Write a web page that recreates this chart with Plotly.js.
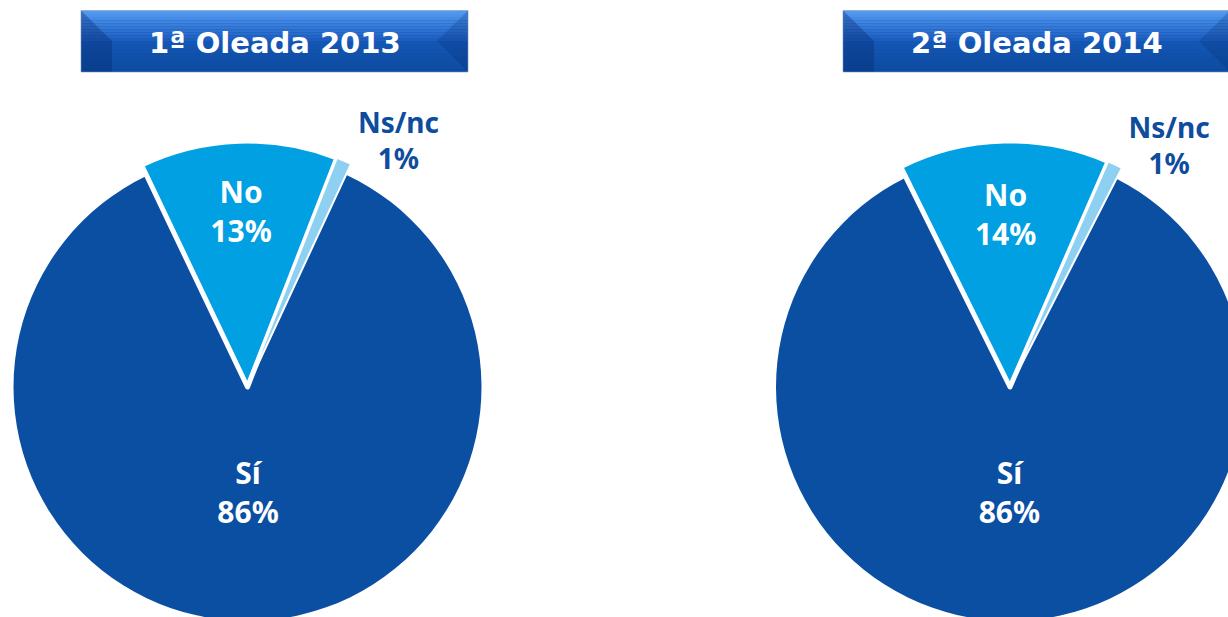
<!DOCTYPE html>
<html><head><meta charset="utf-8">
<script src="https://cdn.plot.ly/plotly-3.0.1.min.js"></script>
<style>
html,body{margin:0;padding:0;overflow:hidden;background:#ffffff;width:1228px;height:617px}
#chart{width:1260px;height:660px}
</style>
</head><body><div id="chart"></div><script>
// ---- data ----
const categories = ['No', 'Ns/nc', 'Sí'];
const wave1Values = [13, 1, 86];
const wave2Values = [14, 1, 86];
const panelTitles = ['1ª Oleada 2013', '2ª Oleada 2014'];

// ---- style ----
const sliceColors = ['#00A0E3', '#8ED0F1', '#0B4FA3'];
const CLEAR = 'rgba(0,0,0,0)';
const W = 1260, H = 660;
const px = x => x / W;
const py = y => 1 - y / H;
function domainFor(cx, cy, r) {
  return {x: [px(cx - r), px(cx + r)], y: [py(cy + r), py(cy - r)]};
}
const labelFont = {family: 'Noto Sans', size: 30, color: '#ffffff', weight: 700};
const outFont = {family: 'Noto Sans', size: 28, color: '#0E4C9E', weight: 700};

const panels = [
  {values: wave1Values, cx: 247.5, cy: 387, rot: -25.5, box: [81, 468]},
  {values: wave2Values, cx: 1010, cy: 387, rot: -26.4, box: [843, 1230]}
];

const traces = [];
panels.forEach(p => {
  const txt = categories.map((c, i) => c + '<br>' + p.values[i] + '%');
  const common = {
    type: 'pie', labels: categories, values: p.values, sort: false,
    direction: 'clockwise', rotation: p.rot, hoverinfo: 'skip',
    showlegend: false, textinfo: 'text', insidetextorientation: 'horizontal',
    insidetextfont: labelFont, outsidetextfont: outFont
  };
  // base pie: Sí slice + Ns/nc outside label
  traces.push(Object.assign({}, common, {
    domain: domainFor(p.cx, p.cy, 234),
    marker: {colors: [CLEAR, CLEAR, sliceColors[2]], line: {width: 0}},
    text: ['', txt[1], ''],
    textposition: ['none', 'outside', 'none']
  }));
  // enlarged slices No and Ns/nc
  traces.push(Object.assign({}, common, {
    domain: domainFor(p.cx, p.cy, 246),
    marker: {colors: [sliceColors[0], sliceColors[1], CLEAR],
             line: {color: '#ffffff', width: [5, 2, 0]}},
    text: [txt[0], '', ''],
    textposition: ['inside', 'none', 'none']
  }));
  // label carrier for Sí
  traces.push(Object.assign({}, common, {
    domain: domainFor(p.cx, p.cy, 210),
    marker: {colors: [CLEAR, CLEAR, CLEAR], line: {width: 0}},
    text: ['', '', txt[2]],
    textposition: ['none', 'none', 'inside']
  }));
});

// ---- header boxes ----
const shapes = [];
const annotations = [];
function lerp(a, b, t) { return a.map((v, i) => Math.round(v + (b[i] - v) * t)); }
function rect(x0, y0, x1, y1, color, line) {
  return {type: 'rect', xref: 'paper', yref: 'paper', x0: px(x0), x1: px(x1),
          y0: py(y1), y1: py(y0), fillcolor: color, line: line || {width: 0}};
}
function poly(pts, color) {
  const d = pts.map((q, i) => (i ? 'L' : 'M') + px(q[0]) + ',' + py(q[1])).join(' ') + ' Z';
  return {type: 'path', xref: 'paper', yref: 'paper', path: d, fillcolor: color, line: {width: 0}};
}
panels.forEach((p, k) => {
  const x0 = p.box[0], x1 = p.box[1], y0 = 10.5, y1 = 72, ym = 41;
  shapes.push(rect(x0, y0, x1, y1, '#0E4EA8', {color: 'rgba(160,175,200,0.8)', width: 1}));
  const n = 10;
  for (let i = 0; i < n; i++) {
    const c = lerp([80, 152, 240], [28, 94, 192], i / (n - 1));
    shapes.push(rect(x0 + 0.5, y0 + 0.5 + (ym - y0) * i / n, x1 - 0.5, y0 + 0.5 + (ym - y0) * (i + 1) / n,
      'rgb(' + c.join(',') + ')'));
  }
  for (let i = 0; i < n; i++) {
    const c = lerp([20, 86, 180], [12, 76, 160], i / (n - 1));
    shapes.push(rect(x0 + 0.5, ym + (y1 - 0.5 - ym) * i / n, x1 - 0.5, ym + (y1 - 0.5 - ym) * (i + 1) / n,
      'rgb(' + c.join(',') + ')'));
  }
  shapes.push(poly([[x0 + 0.5, y0 + 0.5], [x0 + 31, ym], [x0 + 31, y1 - 0.5], [x0 + 0.5, y1 - 0.5]], 'rgba(5,40,110,0.35)'));
  shapes.push(poly([[x1 - 0.5, y0 + 0.5], [x1 - 31, ym], [x1 - 0.5, y1 - 0.5]], 'rgba(5,40,110,0.22)'));
  annotations.push({
    text: panelTitles[k], xref: 'paper', yref: 'paper',
    x: px((x0 + x1) / 2), y: py(42.5), xanchor: 'center', yanchor: 'middle',
    showarrow: false, font: {family: 'DejaVu Sans', size: 29, color: '#ffffff', weight: 700}
  });
});

const layout = {
  width: W, height: H, margin: {l: 0, r: 0, t: 0, b: 0},
  paper_bgcolor: '#ffffff', plot_bgcolor: '#ffffff',
  shapes: shapes, annotations: annotations, showlegend: false
};
Plotly.newPlot('chart', traces, layout, {displayModeBar: false, staticPlot: true});
</script></body></html>
